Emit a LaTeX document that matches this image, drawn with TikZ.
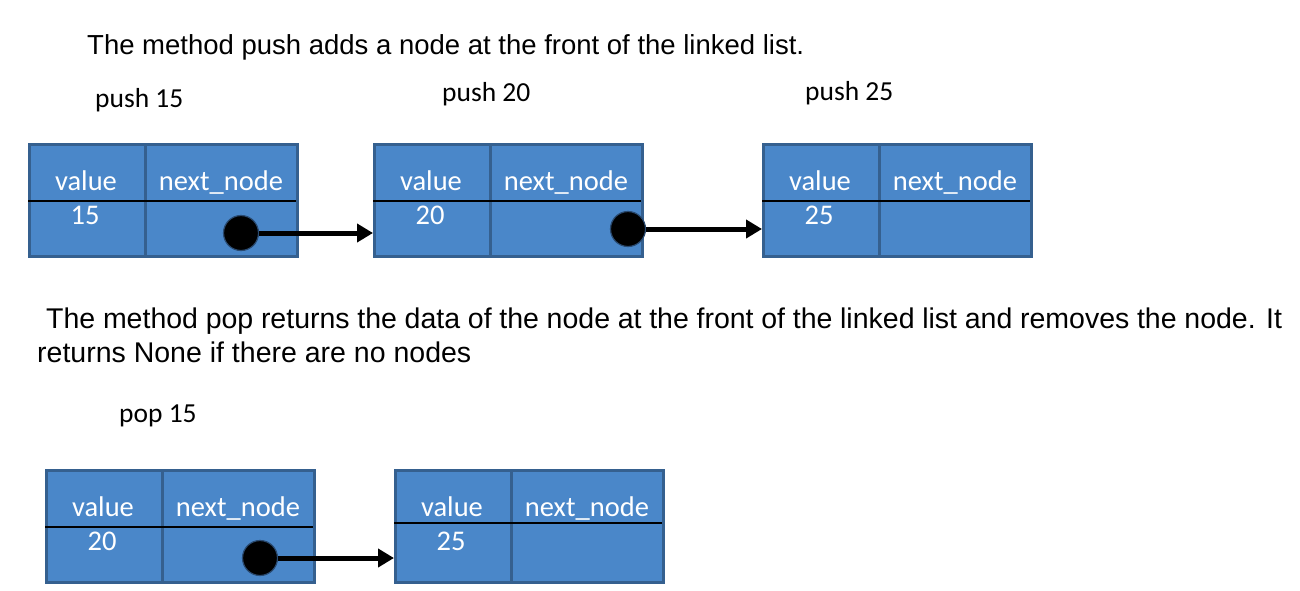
\documentclass[tikz,border=0pt]{standalone}
\usepackage{fontspec}
\setmainfont{Liberation Sans}
\newfontfamily\carlito{Carlito}
\usetikzlibrary{arrows.meta,calc}
\definecolor{boxfill}{HTML}{4A87C9}
\definecolor{boxline}{HTML}{35608F}
\definecolor{dotline}{HTML}{2A4A70}
\tikzset{
  listbox/.style={draw=boxline, fill=boxfill, line width=3pt, minimum width=268pt, minimum height=112pt, anchor=north west, inner sep=0pt},
  divline/.style={draw=boxline, line width=3pt},
  rowline/.style={draw=black, line width=2pt},
  celltext/.style={text=white, font=\carlito\fontsize{28.5}{30}\selectfont, anchor=base, inner sep=0pt},
  label/.style={font=\carlito\fontsize{27.5}{30}\selectfont, anchor=base west, inner sep=0pt},
  para/.style={font=\fontsize{27.5}{32}\selectfont, anchor=base west, inner sep=0pt},
  parab/.style={font=\fontsize{28.5}{32}\selectfont, anchor=base west, inner sep=0pt},
  dot/.style={circle, fill=black, draw=dotline, line width=1.2pt, minimum size=35pt, inner sep=0pt},
  link/.style={line width=5pt, -{Triangle[length=16pt,width=18pt]}}
}
% \listnode{name}{left}{top}{value}{rowline offset}
\newcommand{\listnode}[5]{%
  \node[listbox] (#1) at (#2+1,#3) {};
  \draw[divline] ($(#1.north west)+(117,0)$) coordinate (#1-dt) -- ++(0,112) coordinate (#1-db);
  \draw[rowline] ($(#1.north west)+(0,#5)$) coordinate (#1-rl) -- ++(268,0) coordinate (#1-rr);
  \node[celltext] (#1-vl) at ($(#1.north west)+(58,47)$) {value};
  \node[celltext] (#1-nl) at ($(#1.north west)+(193,47)$) {next\_node};
  \node[celltext] (#1-v) at ($(#1.north west)+(57,81)$) {#4};
}
\begin{document}
\begin{tikzpicture}[x=1pt,y=-1pt]
\useasboundingbox (0,0) rectangle (1300,590);

\node[para] (t1) at (87,54) {The method push adds a node at the front of the linked list.};

\node[label] (p15) at (95,107) {push 15};
\node[label] (p20) at (442,101) {push 20};
\node[label] (p25) at (805,100) {push 25};

\listnode{b1}{27}{143}{15}{58}
\listnode{b2}{372}{143}{20}{58}
\listnode{b3}{761}{143}{25}{58}

\node[dot] (c1) at (241,233) {};
\node[dot] (c2) at (628,229) {};
\draw[link] (c1.east) -- (c1 -| b2.west);
\draw[link] (c2.east) -- (c2 -| b3.west);

\node[parab] (t2) at (46,328) {\hbox to 1236pt{The method pop returns the data of the node at the front of the linked list and removes the node. It}};
\node[parab] (t3) at (37,362) {returns None if there are no nodes};

\node[label] (pp15) at (119,422) {pop 15};

\listnode{b4}{44}{469}{20}{58}
\listnode{b5}{393}{469}{25}{54}

\node[dot] (c3) at (260,558) {};
\draw[link] (c3.east) -- (c3 -| b5.west);
\end{tikzpicture}
\end{document}
